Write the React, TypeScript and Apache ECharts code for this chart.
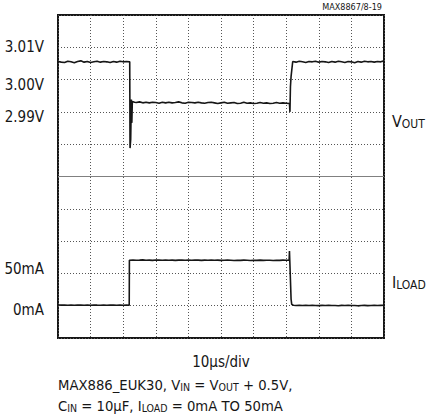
import React, { useEffect, useRef } from 'react';
import * as echarts from 'echarts';

const FONT = '"Liberation Sans Narrow", "Arial Narrow", "DejaVu Sans Condensed", sans-serif';

// time axis (µs), 10 µs/div
const timeMin = 0;
const timeMax = 100;
const timeStep = 10;

// VOUT axis (mV), 10 mV/div
const voltMin = 2920;
const voltMax = 3020;
const voltStep = 10;
const voltTickValues = [2990, 3000, 3010];
const voltTickLabels = ['2.99V', '3.00V', '3.01V'];
const voltCenterLine = 2970;

// ILOAD axis (mA), 50 mA/div
const currMin = -50;
const currMax = 450;
const currStep = 50;
const currTickValues = [0, 50];
const currTickLabels = ['0mA', '50mA'];

const voutTime = [
  0, 1, 2, 3, 4, 5, 6, 7, 8, 9, 10, 11, 12, 13, 14, 15, 16, 17, 18, 19, 20, 21, 22,
  22.1, 22.3, 22.5, 22.65, 22.8, 23.5,
  24, 25, 26, 27, 28, 29, 30, 31, 32, 33, 34, 35, 36, 37, 38, 39, 40, 41, 42, 43, 44, 45, 46, 47,
  48, 49, 50, 51, 52, 53, 54, 55, 56, 57, 58, 59, 60, 61, 62, 63, 64, 65, 66, 67, 68, 69, 70, 71,
  71.15, 71.3, 71.5, 72,
  73, 74, 75, 76, 77, 78, 79, 80, 81, 82, 83, 84, 85, 86, 87, 88, 89, 90, 91, 92, 93, 94, 95, 96,
  97, 98, 99, 100,
];
const voutMv = [
  3005.6, 3005.4, 3005.3, 3005.7, 3005.5, 3005.2, 3005.6, 3005.8, 3005.4, 3005.6, 3005.3, 3005.5,
  3005.7, 3005.4, 3005.6, 3005.5, 3005.3, 3005.6, 3005.4, 3005.7, 3005.5, 3005.6, 3005.5,
  2978.8, 2981.5, 2993.8, 2986.6, 2993.2, 2993.0,
  2992.9, 2993.1, 2992.8, 2993.0, 2992.8, 2993.0, 2992.9, 2992.7, 2993.0, 2992.8, 2993.0, 2992.8,
  2992.9, 2993.1, 2992.8, 2992.7, 2993.0, 2992.9, 2992.8, 2993.0, 2992.8, 2992.7, 2992.9, 2993.0,
  2992.8, 2992.6, 2992.8, 2993.0, 2992.7, 2992.8, 2992.9, 2992.6, 2992.7, 2993.0, 2992.7, 2992.8,
  2992.6, 2992.7, 2992.9, 2992.7, 2992.8, 2992.6, 2992.7, 2992.9, 2992.7, 2992.8, 2992.7, 2992.6,
  2990.0, 2997.8, 3001.0, 3005.6,
  3005.4, 3005.7, 3005.5, 3005.3, 3005.6, 3005.5, 3005.7, 3005.4, 3005.6, 3005.5, 3005.3, 3005.6,
  3005.4, 3005.7, 3005.5, 3005.3, 3005.6, 3005.5, 3005.2, 3005.6, 3005.4, 3005.7, 3005.5, 3005.6,
  3005.4, 3005.6, 3005.5, 3005.8,
];

const iloadTime = [
  0, 1, 2, 3, 4, 5, 6, 7, 8, 9, 10, 11, 12, 13, 14, 15, 16, 17, 18, 19, 20, 21, 21.85,
  21.9, 22, 23, 24, 25, 26, 27, 28, 29, 30, 31, 32, 33, 34, 35, 36, 37, 38, 39, 40, 41, 42, 43, 44,
  45, 46, 47, 48, 49, 50, 51, 52, 53, 54, 55, 56, 57, 58, 59, 60, 61, 62, 63, 64, 65, 66, 67, 68,
  69, 70, 70.9,
  71.0, 71.1, 71.3, 71.5, 71.7, 72.2,
  73, 74, 75, 76, 77, 78, 79, 80, 81, 82, 83, 84, 85, 86, 87, 88, 89, 90, 91, 92, 93, 94, 95, 96,
  97, 98, 99, 100,
];
const iloadMa = [
  1.2, 0.9, 1.1, 0.8, 1.0, 0.7, 1.1, 0.9, 0.6, 1.0, 0.8, 1.2, 0.9, 0.7, 1.0, 0.8, 1.1, 0.9, 0.6,
  1.0, 0.8, 0.9, 0.8,
  70.4, 70.6, 70.8, 70.3, 70.5, 70.9, 70.4, 70.6, 70.2, 70.7, 70.5, 70.3, 70.8, 70.4, 70.6, 70.2,
  70.5, 70.7, 70.3, 70.6, 70.4, 70.8, 70.5, 70.2, 70.6, 70.4, 70.7, 70.3, 70.5, 70.1, 70.4, 70.6,
  70.3, 70.0, 70.4, 70.2, 70.5, 70.3, 70.0, 70.4, 70.2, 70.5, 70.1, 70.3, 70.4, 70.0, 70.3, 70.2,
  70.5, 70.3, 70.4,
  84.5, 70.0, 40.0, 10.0, 2.0, 0.6,
  0.4, 0.7, 0.3, 0.5, 0.2, 0.6, 0.4, 0.1, 0.5, 0.3, 0.6, 0.2, 0.4, 0.0, 0.5, 0.3, 0.6, 0.2, 0.4,
  -0.2, 0.3, 0.5, 0.1, 0.4, 0.6, 0.2, 0.5, 0.8,
];

const INK = '#161616';

export default function App() {
  const ref = useRef<HTMLDivElement>(null);

  useEffect(() => {
    if (!ref.current) return;
    const chart = echarts.init(ref.current, undefined, { renderer: 'svg' });

    const voutData = voutTime.map((t, i) => [t, voutMv[i]]);
    const iloadData = iloadTime.map((t, i) => [t, iloadMa[i]]);

    const sub = { fontSize: 10.5, lineHeight: 8, verticalAlign: 'bottom', fontFamily: FONT, fill: INK, color: INK };
    const main = { fontSize: 14.7, lineHeight: 16, fontFamily: FONT, color: INK, fill: INK };
    const labelSize = 15;

    chart.setOption({
      animation: false,
      backgroundColor: '#fff',
      grid: {
        left: 58,
        top: 15,
        width: 326,
        height: 323,
        show: true,
        borderColor: INK,
        borderWidth: 2,
      },
      xAxis: {
        type: 'value',
        min: timeMin,
        max: timeMax,
        interval: timeStep,
        axisLine: { show: false },
        axisTick: { show: false },
        axisLabel: { show: false },
        splitLine: { show: true, lineStyle: { color: '#555', type: [1, 2], width: 1 } },
      },
      yAxis: [
        {
          type: 'value',
          min: voltMin,
          max: voltMax,
          interval: voltStep,
          position: 'left',
          axisLine: { show: false },
          axisTick: { show: false },
          splitLine: { show: true, lineStyle: { color: '#555', type: [1, 2], width: 1 } },
          axisLabel: {
            margin: 14,
            fontSize: labelSize,
            fontFamily: FONT,
            color: INK,
            formatter: (v: number) => {
              const idx = voltTickValues.indexOf(Math.round(v));
              if (idx < 0) return '';
              return idx === 2 ? `{a|${voltTickLabels[idx]}}` : `{b|${voltTickLabels[idx]}}`;
            },
            rich: {
              a: { fontSize: labelSize, fontFamily: FONT, color: INK },
              b: { fontSize: labelSize, fontFamily: FONT, color: INK, padding: [11, 0, 0, 0] },
            },
          },
        },
        {
          type: 'value',
          min: currMin,
          max: currMax,
          interval: currStep,
          position: 'left',
          axisLine: { show: false },
          axisTick: { show: false },
          splitLine: { show: false },
          axisLabel: {
            margin: 14,
            fontSize: labelSize,
            fontFamily: FONT,
            color: INK,
            formatter: (v: number) => {
              const idx = currTickValues.indexOf(Math.round(v));
              if (idx < 0) return '';
              return idx === 1 ? `{up|${currTickLabels[idx]}}` : `{dn|${currTickLabels[idx]}}`;
            },
            rich: {
              up: { fontSize: labelSize, fontFamily: FONT, color: INK, padding: [0, 0, 8, 0] },
              dn: { fontSize: labelSize, fontFamily: FONT, color: INK, padding: [8, 0, 0, 0] },
            },
          },
        },
      ],
      series: [
        {
          name: 'VOUT',
          type: 'line',
          yAxisIndex: 0,
          data: voutData,
          showSymbol: false,
          symbol: 'none',
          lineStyle: { color: INK, width: 1.6 },
          z: 3,
          markLine: {
            silent: true,
            symbol: 'none',
            label: { show: false },
            lineStyle: { type: 'solid', color: '#808080', width: 1 },
            data: [{ yAxis: voltCenterLine }],
          },
        },
        {
          name: 'ILOAD',
          type: 'line',
          yAxisIndex: 1,
          data: iloadData,
          showSymbol: false,
          symbol: 'none',
          lineStyle: { color: INK, width: 1.6 },
          z: 3,
        },
      ],
      graphic: [
        {
          type: 'text',
          x: 382,
          y: 7,
          style: { text: 'MAX8867/8-19', fontSize: 9, fontFamily: FONT, fill: INK, align: 'right', verticalAlign: 'middle' },
        },
        {
          type: 'text',
          x: 392,
          y: 121,
          style: {
            text: '{v|V}{s|OUT}',
            align: 'left',
            verticalAlign: 'middle',
            rich: {
              v: { fontSize: 16, lineHeight: 18, fontFamily: FONT, fill: INK },
              s: { fontSize: 12, lineHeight: 12, verticalAlign: 'bottom', fontFamily: FONT, fill: INK },
            },
          },
        },
        {
          type: 'text',
          x: 392,
          y: 282,
          style: {
            text: '{v|I}{s|LOAD}',
            align: 'left',
            verticalAlign: 'middle',
            rich: {
              v: { fontSize: 16, lineHeight: 18, fontFamily: FONT, fill: INK },
              s: { fontSize: 12, lineHeight: 12, verticalAlign: 'bottom', fontFamily: FONT, fill: INK },
            },
          },
        },
        {
          type: 'text',
          x: 221,
          y: 362,
          style: { text: '10µs/div', fontSize: 15, fontFamily: FONT, fill: INK, align: 'center', verticalAlign: 'middle' },
        },
        {
          type: 'text',
          x: 58,
          y: 384,
          style: {
            text: '{m|MAX886_EUK30, V}{s|IN}{m| = V}{s|OUT}{m| + 0.5V,}',
            align: 'left',
            verticalAlign: 'middle',
            rich: { m: main, s: sub },
          },
        },
        {
          type: 'text',
          x: 58,
          y: 405,
          style: {
            text: '{m|C}{s|IN}{m| = 10µF, I}{s|LOAD}{m| = 0mA TO 50mA}',
            align: 'left',
            verticalAlign: 'middle',
            rich: { m: main, s: sub },
          },
        },
      ],
    });

    return () => chart.dispose();
  }, []);

  return (
    <div
      ref={ref}
      style={{ position: 'absolute', left: 0, top: 0, width: 426, height: 420, background: '#fff' }}
    />
  );
}
